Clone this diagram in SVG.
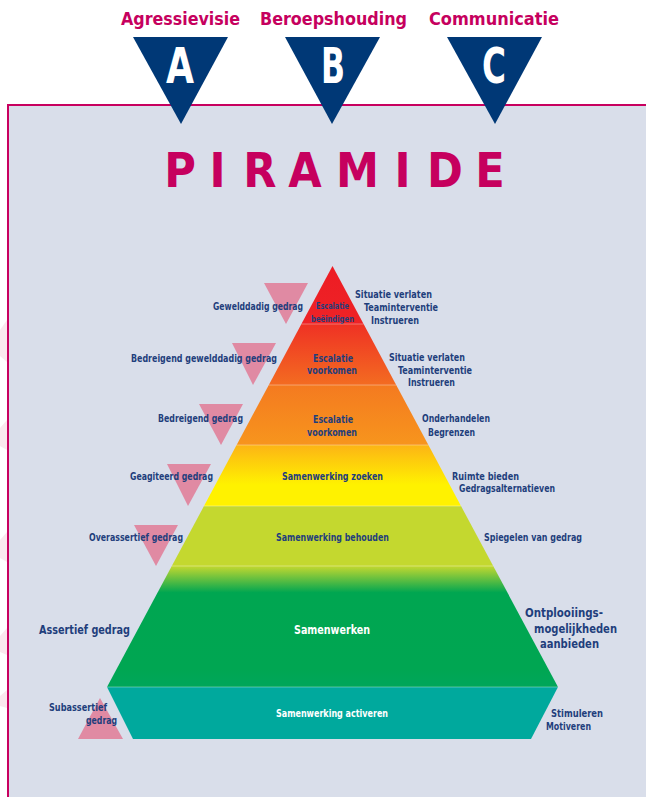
<svg xmlns="http://www.w3.org/2000/svg" width="646" height="797" viewBox="0 0 646 797">
<defs>
<style>
text{font-family:"DejaVu Sans Condensed","DejaVu Sans",sans-serif;font-weight:bold;}
.hd{fill:#c6005e;font-size:17px;}
.abc{fill:#ffffff;font-size:49px;text-anchor:middle;}
.ttl{fill:#c6005e;font-size:48px;text-anchor:middle;}
.lb{fill:#1f3e7c;font-size:10.5px;}
.sm{font-size:9px;}
.lbl{fill:#1f3e7c;font-size:13px;}
.end{text-anchor:end;}
.wt{fill:#ffffff;}
.navy{fill:#003876;}
.pink{fill:#e08aa3;}
.sep{stroke:#ffffff;stroke-opacity:0.35;stroke-width:1;fill:none;}
.ghost{fill:#fbe8ee;}
</style>
<linearGradient id="g1" x1="0" y1="0" x2="0" y2="1"><stop offset="0" stop-color="#ed1c24"/><stop offset="1" stop-color="#ee2326"/></linearGradient>
<linearGradient id="g2" x1="0" y1="0" x2="0" y2="1"><stop offset="0" stop-color="#ef3124"/><stop offset="1" stop-color="#f36c21"/></linearGradient>
<linearGradient id="g3" x1="0" y1="0" x2="0" y2="1"><stop offset="0" stop-color="#f47a20"/><stop offset="1" stop-color="#f7951d"/></linearGradient>
<linearGradient id="g4" x1="0" y1="0" x2="0" y2="1"><stop offset="0" stop-color="#fcb415"/><stop offset="0.65" stop-color="#fff200"/><stop offset="1" stop-color="#fff200"/></linearGradient>
<linearGradient id="g5" x1="0" y1="0" x2="0" y2="1"><stop offset="0" stop-color="#c4d82f"/><stop offset="1" stop-color="#c4d82f"/></linearGradient>
<linearGradient id="g6" x1="0" y1="0" x2="0" y2="1"><stop offset="0" stop-color="#c4d82f"/><stop offset="0.22" stop-color="#00a651"/><stop offset="0.85" stop-color="#00a652"/><stop offset="1" stop-color="#00a65a"/></linearGradient>
</defs>

<rect x="0" y="0" width="646" height="797" fill="#ffffff"/>

<g id="frame">
<rect x="8" y="105" width="700" height="760" fill="#d9deea" stroke="#c8005f" stroke-width="2"/>
<polygon class="ghost" points="0,330 7,320 7,362 0,356"/>
<polygon class="ghost" points="0,428 7,420 7,450 0,446"/>
<polygon class="ghost" points="0,540 7,532 7,562 0,558"/>
<polygon class="ghost" points="0,636 7,628 7,655 0,652"/>
<polygon class="ghost" points="0,696 7,690 7,708 0,706"/>
</g>

<g id="header-A">
<text class="hd" x="121" y="25" textLength="119" lengthAdjust="spacingAndGlyphs">Agressievisie</text>
<polygon class="navy" points="133,37 228,37 181,124"/>
<text class="abc" x="180" y="83" textLength="28" lengthAdjust="spacingAndGlyphs">A</text>
</g>
<g id="header-B">
<text class="hd" x="260" y="25" textLength="147" lengthAdjust="spacingAndGlyphs">Beroepshouding</text>
<polygon class="navy" points="285,37 380,37 332,124"/>
<text class="abc" x="333" y="83" textLength="24" lengthAdjust="spacingAndGlyphs">B</text>
</g>
<g id="header-C">
<text class="hd" x="429" y="25" textLength="130" lengthAdjust="spacingAndGlyphs">Communicatie</text>
<polygon class="navy" points="447,37 542,37 495,124"/>
<text class="abc" x="494" y="83" textLength="24" lengthAdjust="spacingAndGlyphs">C</text>
</g>

<g id="title">
<text class="ttl" x="180 217.5 260 305 357.5 402.5 445 490" y="187">PIRAMIDE</text>
</g>

<g id="markers">
<polygon class="pink" points="264,283 308,283 286,324"/>
<polygon class="pink" points="232,343 276,343 253,385"/>
<polygon class="pink" points="199,404 243,404 221,445"/>
<polygon class="pink" points="167,464 211,464 188,506"/>
<polygon class="pink" points="134,525 178,525 156,566"/>
<polygon class="pink" points="100,698 123,739 78,739"/>
</g>

<g id="band-1">
<polygon points="332.5,266 363.6,324 301.4,324" fill="url(#g1)"/>
<text class="lb sm" x="316" y="309" textLength="33" lengthAdjust="spacingAndGlyphs">Escalatie</text>
<text class="lb sm" x="311" y="322" textLength="43" lengthAdjust="spacingAndGlyphs">beëindigen</text>
</g>
<g id="band-2">
<polygon points="301.4,324 363.6,324 396.2,385 268.8,385" fill="url(#g2)"/>
<text class="lb" x="313" y="362" textLength="40" lengthAdjust="spacingAndGlyphs">Escalatie</text>
<text class="lb" x="307" y="374" textLength="50" lengthAdjust="spacingAndGlyphs">voorkomen</text>
</g>
<g id="band-3">
<polygon points="268.8,385 396.2,385 428.4,445 236.6,445" fill="url(#g3)"/>
<text class="lb" x="313" y="423" textLength="40" lengthAdjust="spacingAndGlyphs">Escalatie</text>
<text class="lb" x="307" y="436" textLength="50" lengthAdjust="spacingAndGlyphs">voorkomen</text>
</g>
<g id="band-4">
<polygon points="236.6,445 428.4,445 461,506 204,506" fill="url(#g4)"/>
<text class="lb" x="282" y="480" textLength="101" lengthAdjust="spacingAndGlyphs">Samenwerking zoeken</text>
</g>
<g id="band-5">
<polygon points="204,506 461,506 493.2,566 171.8,566" fill="url(#g5)"/>
<text class="lb" x="276" y="541" textLength="113" lengthAdjust="spacingAndGlyphs">Samenwerking behouden</text>
</g>
<g id="band-6">
<polygon points="171.8,566 493.2,566 558,687 107,687" fill="url(#g6)"/>
<text class="lbl wt" x="294" y="634" textLength="76" lengthAdjust="spacingAndGlyphs">Samenwerken</text>
</g>
<g id="band-7">
<polygon points="107,687 558,687 531,739 133,739" fill="#00a99d"/>
<text class="lb wt" style="font-size:10px" x="276" y="717" textLength="112" lengthAdjust="spacingAndGlyphs">Samenwerking activeren</text>
</g>

<g id="connectors">
<line class="sep" x1="301.4" y1="324" x2="363.6" y2="324"/>
<line class="sep" x1="268.8" y1="385" x2="396.2" y2="385"/>
<line class="sep" x1="236.6" y1="445" x2="428.4" y2="445"/>
<line class="sep" x1="204" y1="506" x2="461" y2="506"/>
<line class="sep" x1="171.8" y1="566" x2="493.2" y2="566" stroke-opacity="0.5"/>
<line class="sep" x1="107" y1="687" x2="558" y2="687"/>
</g>

<g id="left-labels">
<text class="lb end" x="303" y="310" textLength="90" lengthAdjust="spacingAndGlyphs">Gewelddadig gedrag</text>
<text class="lb end" x="277" y="362" textLength="146" lengthAdjust="spacingAndGlyphs">Bedreigend gewelddadig gedrag</text>
<text class="lb end" x="243" y="422" textLength="85" lengthAdjust="spacingAndGlyphs">Bedreigend gedrag</text>
<text class="lb end" x="213" y="480" textLength="83" lengthAdjust="spacingAndGlyphs">Geagiteerd gedrag</text>
<text class="lb end" x="183" y="541" textLength="94" lengthAdjust="spacingAndGlyphs">Overassertief gedrag</text>
<text class="lbl end" x="130" y="634" textLength="91" lengthAdjust="spacingAndGlyphs">Assertief gedrag</text>
<text class="lb end" style="font-size:10px" x="107" y="711" textLength="58" lengthAdjust="spacingAndGlyphs">Subassertief</text>
<text class="lb end" style="font-size:10px" x="117" y="724" textLength="31" lengthAdjust="spacingAndGlyphs">gedrag</text>
</g>

<g id="right-labels">
<text class="lb" x="355" y="298" textLength="77" lengthAdjust="spacingAndGlyphs">Situatie verlaten</text>
<text class="lb" x="364" y="311" textLength="74" lengthAdjust="spacingAndGlyphs">Teaminterventie</text>
<text class="lb" x="371" y="324" textLength="48" lengthAdjust="spacingAndGlyphs">Instrueren</text>
<text class="lb" x="389" y="361" textLength="76" lengthAdjust="spacingAndGlyphs">Situatie verlaten</text>
<text class="lb" x="398" y="374" textLength="74" lengthAdjust="spacingAndGlyphs">Teaminterventie</text>
<text class="lb" x="408" y="386" textLength="47" lengthAdjust="spacingAndGlyphs">Instrueren</text>
<text class="lb" x="422" y="422" textLength="68" lengthAdjust="spacingAndGlyphs">Onderhandelen</text>
<text class="lb" x="428" y="436" textLength="47" lengthAdjust="spacingAndGlyphs">Begrenzen</text>
<text class="lb" x="452" y="480" textLength="67" lengthAdjust="spacingAndGlyphs">Ruimte bieden</text>
<text class="lb" x="459" y="492" textLength="96" lengthAdjust="spacingAndGlyphs">Gedragsalternatieven</text>
<text class="lb" x="484" y="541" textLength="98" lengthAdjust="spacingAndGlyphs">Spiegelen van gedrag</text>
<text class="lbl" x="525" y="617" textLength="78" lengthAdjust="spacingAndGlyphs">Ontplooiings-</text>
<text class="lbl" x="534" y="633" textLength="83" lengthAdjust="spacingAndGlyphs">mogelijkheden</text>
<text class="lbl" x="540" y="648" textLength="59" lengthAdjust="spacingAndGlyphs">aanbieden</text>
<text class="lb" style="font-size:10px" x="551" y="717" textLength="52" lengthAdjust="spacingAndGlyphs">Stimuleren</text>
<text class="lb" style="font-size:10px" x="546" y="730" textLength="45" lengthAdjust="spacingAndGlyphs">Motiveren</text>
</g>
</svg>
